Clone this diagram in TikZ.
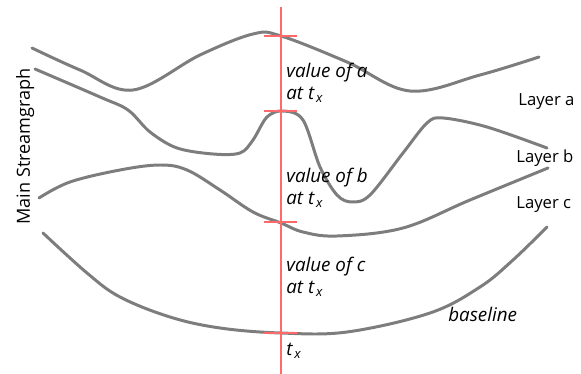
\documentclass[tikz,border=0pt]{standalone}
\usepackage{fontspec}
\setmainfont{Open Sans}
\usepackage{tikz}
\usetikzlibrary{positioning}
\definecolor{streamGray}{RGB}{125,125,125}
\definecolor{cutRed}{RGB}{255,105,105}
\newcommand{\tsub}{t\kern1pt\textsubscript{x}}

\begin{document}
\begin{tikzpicture}[x=0.02cm,y=-0.02cm,
    layer/.style={draw=streamGray,line width=1.7pt,line cap=round},
    cut/.style={draw=cutRed,line width=0.6pt},
    lbl/.style={inner sep=0pt,font=\fontsize{9.5}{12}\selectfont},
    reading/.style={inner sep=0pt,align=left,font=\fontsize{10.7}{12.6}\selectfont\itshape}]
  \useasboundingbox (0,0) rectangle (581,374);
  % short red tick where the cut meets a boundary
  \newcommand{\cutmark}[2]{\coordinate (#1) at (281,#2);
    \draw[cut] (264,#2) -- (297,#2);}
  % boundaries of the stream
  \draw[layer] plot[smooth,tension=0.6] coordinates {(32,48) (80,70) (133,90) (200,55)
    (253,34) (281,36) (347,62) (410,91) (480,75) (539,57)};
  \draw[layer] plot[smooth,tension=0.55] coordinates {(35,69) (100,97) (128,110) (150,132)
    (177,148) (213,154) (240,153) (253,140) (267,117) (283,111) (303,120) (320,167)
    (337,195) (352,202) (370,195) (403,153) (427,123) (443,118) (487,127) (547,148)};
  \draw[layer] plot[smooth,tension=0.6] coordinates {(39,198) (70,182) (120,170) (160,165)
    (187,170) (220,190) (253,212) (281,223) (303,232) (337,236) (403,228) (470,200)
    (548,168)};
  \draw[layer] plot[smooth,tension=0.6] coordinates {(43,233) (87,273) (120,297) (170,317)
    (220,328) (281,333) (347,332) (430,313) (480,287) (513,260) (547,227)};
  % the cut at t_x
  \coordinate (cuttop) at (281,7);
  \coordinate (cutbot) at (281,374);
  \draw[cut] (cuttop) -- (cutbot);
  \cutmark{ya}{36}
  \cutmark{yb}{111}
  \cutmark{yc}{222}
  \cutmark{y0}{333}
  % labels
  \node[reading,anchor=base west] (vala) at (286,100) {value of a\\at \tsub};
  \node[reading,anchor=base west] (valb) at (286,205) {value of b\\at \tsub};
  \node[reading,anchor=base west] (valc) at (286,294) {value of c\\at \tsub};
  \node[reading,anchor=base west] (tx) at (286,356) {\tsub};
  \node[reading,anchor=base west] (base) at (448,322) {baseline};
  \node[lbl,anchor=base west] (laya) at (518,106) {Layer a};
  \node[lbl,anchor=base west] (layb) at (516,163) {Layer b};
  \node[lbl,anchor=base west] (layc) at (516,209) {Layer c};
  \node[lbl,anchor=base west,rotate=90,font=\fontsize{10.3}{12}\selectfont] (main)
    at (30,225) {Main Streamgraph};
\end{tikzpicture}
\end{document}
